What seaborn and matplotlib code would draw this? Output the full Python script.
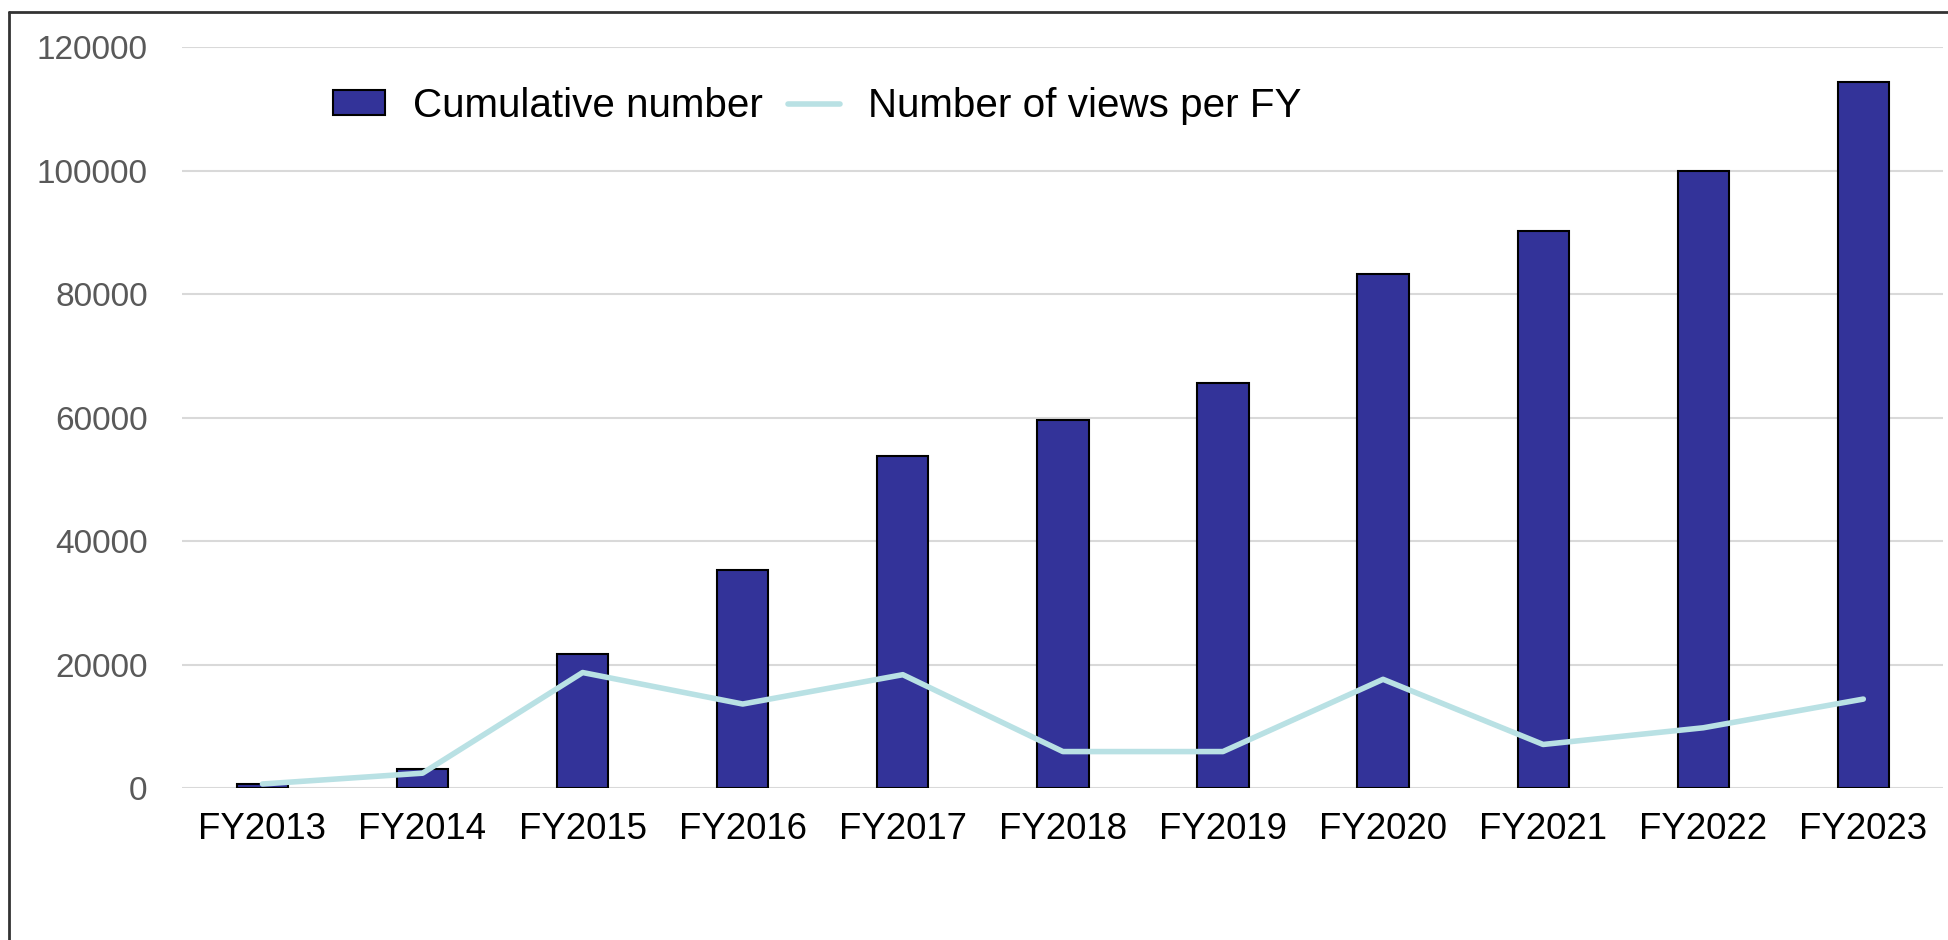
import pandas as pd
import matplotlib
matplotlib.use("Agg")
import matplotlib.pyplot as plt
from matplotlib import font_manager
from matplotlib.lines import Line2D
from matplotlib.patches import Patch
import seaborn as sns

# Values
fiscal_years = ["FY2013", "FY2014", "FY2015", "FY2016", "FY2017", "FY2018",
                "FY2019", "FY2020", "FY2021", "FY2022", "FY2023"]
cumulative = [700, 3050, 21750, 35300, 53700, 59650, 65550, 83200, 90250, 99900, 114350]
views_per_fy = [650, 2400, 18700, 13600, 18350, 5900, 5900, 17600, 7050, 9750, 14400]
y_ticks = [0, 20000, 40000, 60000, 80000, 100000, 120000]

df = pd.DataFrame({"fy": fiscal_years, "cumulative": cumulative, "views": views_per_fy})

sns.set_style("white")

# narrow font for the category labels / legend if it is there
names = {f.name for f in font_manager.fontManager.ttflist}
if "Liberation Sans Narrow" in names:
    narrow = ["Liberation Sans Narrow", "DejaVu Sans"]
    narrow_scale = 1.0
else:
    narrow = ["Liberation Sans", "DejaVu Sans"]
    narrow_scale = 0.88
plt.rcParams["font.family"] = ["Liberation Sans", "DejaVu Sans"]

fig = plt.figure(figsize=(19.49, 9.40), dpi=100)
ax = fig.add_axes([0.0936, 0.1617, 0.9035, 0.7883])

sns.barplot(data=df, x="fy", y="cumulative", color="#333399", saturation=1,
            width=0.32, edgecolor="black", linewidth=1.5, ax=ax, zorder=3)
sns.lineplot(x=df.index, y=df["views"], color="#b9e1e4", linewidth=4,
             ax=ax, zorder=4)

ax.set_xlim(-0.5, len(fiscal_years) - 0.5)
ax.set_ylim(0, 120000)
ax.set_yticks(y_ticks)
ax.set_yticklabels([str(v) for v in y_ticks], fontsize=24, color="#595959")
ax.set_xticks(range(len(fiscal_years)))
ax.set_xticklabels(fiscal_years, fontsize=30 * narrow_scale, family=narrow, color="black")
ax.tick_params(axis="y", length=0, pad=25)
ax.tick_params(axis="x", length=0, pad=17)
ax.set_xlabel("")
ax.set_ylabel("")
ax.yaxis.grid(True, color="#d9d9d9", linewidth=1.5, zorder=0)
ax.set_axisbelow(True)
sns.despine(ax=ax, left=True, bottom=True)

handles = [Patch(facecolor="#333399", edgecolor="black", linewidth=1.5),
           Line2D([], [], color="#b9e1e4", linewidth=4)]
fig.legend(handles, ["Cumulative number", "Number of views per FY"], ncol=2,
           loc="center left", bbox_to_anchor=(333 / 1949, 1 - 106 / 940),
           frameon=False, borderpad=0, borderaxespad=0, labelcolor="black",
           prop={"family": narrow, "size": 33 * narrow_scale},
           handlelength=1.13 / narrow_scale, handleheight=0.49 / narrow_scale,
           handletextpad=0.62 / narrow_scale, columnspacing=0.55 / narrow_scale)

# chart frame (top and left edges visible)
fig.add_artist(Line2D([9 / 1949, 9 / 1949], [0, 1 - 12 / 940],
                      transform=fig.transFigure, color="#333333", linewidth=2))
fig.add_artist(Line2D([9 / 1949, 1], [1 - 12 / 940, 1 - 12 / 940],
                      transform=fig.transFigure, color="#333333", linewidth=2))

fig.savefig("out.png", dpi=100)
